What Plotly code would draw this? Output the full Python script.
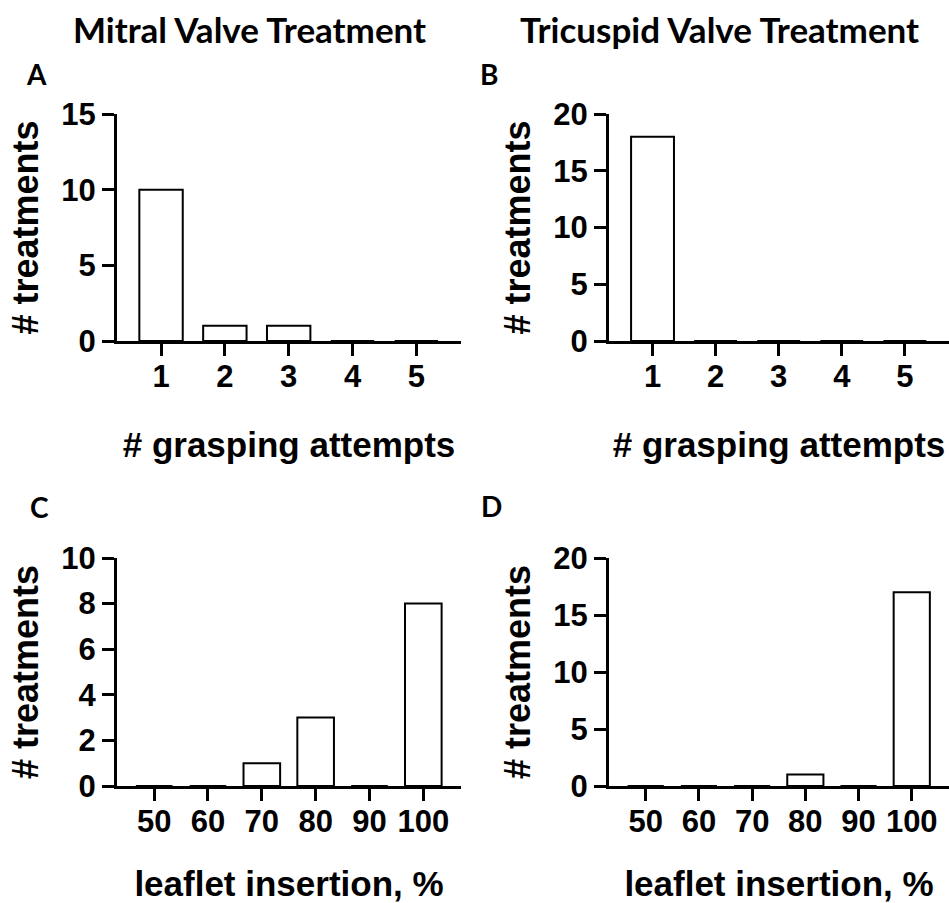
import plotly.graph_objects as go

# ---- data ----
attempt_labels = ["1", "2", "3", "4", "5"]
mitral_attempts = [10, 1, 1, 0, 0]
tricuspid_attempts = [18, 0, 0, 0, 0]

insertion_labels = ["50", "60", "70", "80", "90", "100"]
mitral_insertion = [0, 0, 1, 3, 0, 8]
tricuspid_insertion = [0, 0, 0, 1, 0, 17]

panel_titles = ["Mitral Valve Treatment", "Tricuspid Valve Treatment"]
panel_letters = ["A", "B", "C", "D"]
y_title = "# treatments"
x_titles = ["# grasping attempts", "leaflet insertion, %"]

W, H = 949, 903
AX_FONT = "Liberation Sans, Arial, sans-serif"
TITLE_FONT = "Lato, Calibri, sans-serif"

def px_x(p):
    return p / W

def px_y(p):
    return 1 - p / H

fig = go.Figure()

panels = [
    # (axis suffix, labels, values, xdomain px, ydomain px, ymax, dtick, xtitle, title standoff)
    ("", attempt_labels, mitral_attempts, (117, 461), (114, 341), 15, 5, x_titles[0], 40),
    ("2", attempt_labels, tricuspid_attempts, (609, 949), (114, 341), 20, 5, x_titles[0], 40),
    ("3", insertion_labels, mitral_insertion, (117, 461), (558, 786), 10, 2, x_titles[1], 44),
    ("4", insertion_labels, tricuspid_insertion, (609, 949), (558, 786), 20, 5, x_titles[1], 44),
]

for sid, labels, vals, xd, yd, ymax, dt, xt, xstand in panels:
    fig.add_trace(go.Bar(
        x=labels, y=vals,
        xaxis="x" + sid, yaxis="y" + sid,
        marker=dict(color="white", line=dict(color="black", width=2)),
        width=0.68,
        showlegend=False,
        hoverinfo="x+y",
    ))
    n = len(labels)
    common_tick = dict(family=AX_FONT, size=31, color="black", weight="bold")
    fig.layout["xaxis" + sid] = dict(
        domain=[px_x(xd[0]), min(1.0, px_x(xd[1]))],
        anchor="y" + sid,
        type="category",
        range=[-0.69, n - 0.3],
        showline=True, linecolor="black", linewidth=3,
        ticks="outside", ticklen=12, tickwidth=2.5, tickcolor="black",
        tickfont=common_tick, ticklabelstandoff=-6,
        showgrid=False, zeroline=False,
        title=dict(text=xt, font=dict(family=AX_FONT, size=35, color="black", weight="bold"), standoff=xstand),
        automargin=False,
    )
    fig.layout["yaxis" + sid] = dict(
        domain=[px_y(yd[1]), px_y(yd[0])],
        anchor="x" + sid,
        range=[0, ymax],
        dtick=dt, tick0=0,
        showline=True, linecolor="black", linewidth=3,
        ticks="outside", ticklen=12, tickwidth=2.5, tickcolor="black",
        tickfont=common_tick,
        showgrid=False, zeroline=False,
        title=dict(text=y_title, font=dict(family=AX_FONT, size=36, color="black", weight="bold"), standoff=12),
        automargin=False,
    )

annotations = []
for t, cx in zip(panel_titles, (249, 719)):
    annotations.append(dict(
        text=t, x=px_x(cx), y=px_y(29), xref="paper", yref="paper",
        xanchor="center", yanchor="middle", showarrow=False,
        font=dict(family=TITLE_FONT, size=35, color="black", weight="bold"),
    ))
for letter, (cx, cy) in zip(panel_letters, [(36, 74), (489, 74), (39, 507), (491, 506)]):
    annotations.append(dict(
        text=letter, x=px_x(cx), y=px_y(cy), xref="paper", yref="paper",
        xanchor="center", yanchor="middle", showarrow=False,
        font=dict(family=TITLE_FONT, size=28, color="black", weight="bold"),
    ))

fig.update_layout(
    width=W, height=H,
    margin=dict(l=0, r=0, t=0, b=0),
    paper_bgcolor="white", plot_bgcolor="white",
    annotations=annotations,
    bargap=0.3,
)

fig.write_html("out.html", config={"displayModeBar": False},
               post_script="document.body.style.margin='0px';")
